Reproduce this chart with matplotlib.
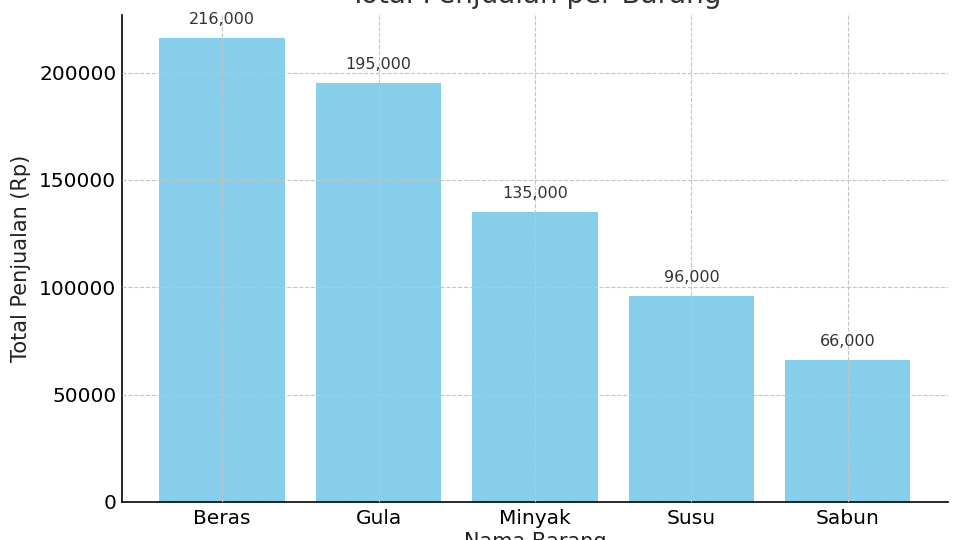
import matplotlib
matplotlib.use('Agg')
import matplotlib.pyplot as plt

barang = ['Beras', 'Gula', 'Minyak', 'Susu', 'Sabun']
total = [216000, 195000, 135000, 96000, 66000]

fig = plt.figure(figsize=(9.6, 5.4), dpi=100)
ax = fig.add_axes([0.127, 0.0704, 0.8605, 0.9016])

bars = ax.bar(barang, total, width=0.8, color='skyblue')
for b, v in zip(bars, total):
    ax.annotate(f'{v:,}', (b.get_x() + b.get_width() / 2, v),
                xytext=(0, 8), textcoords='offset points',
                ha='center', va='bottom', fontsize=11.5, color='#333333')

ax.set_ylim(0, 226800)
# title and x label sit partly outside the canvas, as in the original
ax.set_title('Total Penjualan per Barang', fontsize=20, color='#333333', pad=9)
ax.set_xlabel('Nama Barang', fontsize=15, color='#222222', labelpad=3)
ax.set_ylabel('Total Penjualan (Rp)', fontsize=15, color='#222222', labelpad=6)

ax.grid(True, linestyle='--', color='#c4c4c4', linewidth=0.8)
ax.set_axisbelow(False)
ax.tick_params(length=0, labelsize=14.5, pad=5)
ax.tick_params(axis='y', pad=4)
for s in ['top', 'right']:
    ax.spines[s].set_visible(False)
ax.spines['left'].set_linewidth(1.2)
ax.spines['bottom'].set_linewidth(1.2)

fig.savefig('out.png', dpi=100)
